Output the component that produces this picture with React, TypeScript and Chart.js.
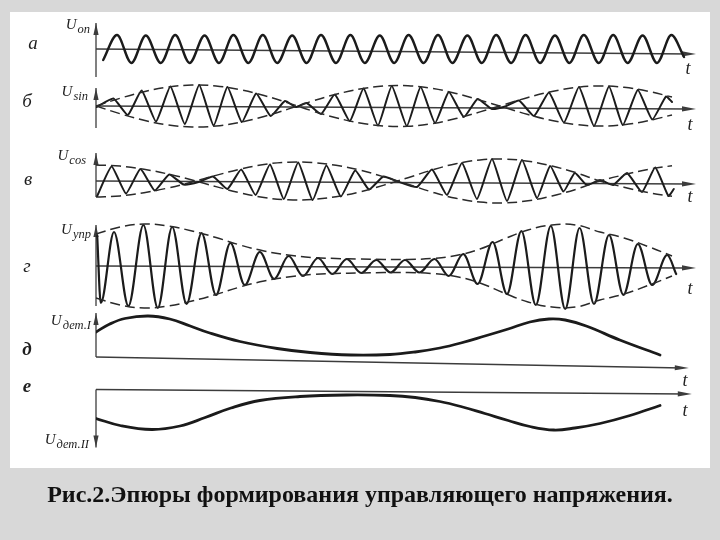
import React, { useEffect, useRef } from "react";
import { Chart, registerables } from "chart.js";

Chart.register(...registerables);

// ---- time axis (arbitrary units) ----
const T_MAX = 100;
const ENV_TIMES = [0, 4, 8, 12, 16, 20, 24, 28, 32, 36, 40, 44, 48, 52, 56, 60, 64, 68, 72, 76, 80, 84, 88, 92, 96];

// а) reference voltage U_оп (carrier extremes)
const onTimes = [1.2, 3.5, 5.9, 8.3, 10.8, 13.2, 15.6, 18.1, 20.5, 22.9, 25.4, 27.8, 30.2, 32.7, 35.1, 37.5, 40.0, 42.4, 44.8, 47.3, 49.7, 52.1, 54.6, 57.0, 59.4, 61.9, 64.3, 66.7, 69.2, 71.6, 74.0, 76.5, 78.9, 81.3, 83.8, 86.2, 88.6, 91.1, 93.5, 95.9, 98.0];
const onValues = [-11,
  14, -14, 13.5, -14, 14, -14, 13.5, -14, 14, -14,
  14, -14, 13.5, -14, 14, -14, 14, -14, 13.5, -14,
  14, -14, 14, -14, 13.5, -14, 14, -14, 14, -14,
  13.5, -14, 14, -14, 14, -14, 13.5, -14,
  14, -8];

// б) U_sin
const sinTimes = [0.1, 2.9, 5.3, 7.6, 10.0, 12.4, 14.8, 17.2, 19.6, 21.9, 24.3, 26.7, 29.1, 31.5, 33.3, 35.1, 37.5, 39.8, 42.3, 44.6, 47.0, 49.3, 51.8, 54.1, 56.5, 58.8, 61.3, 63.6, 66.0, 68.2, 70.5, 73.0, 75.5, 78.0, 80.5, 83.0, 85.5, 87.8, 90.3, 92.7, 95.0, 96.0];
const sinValues = [-1, 7.5, -9, 15.5, -15.5, 19.5, -18, 21, -19.5, 19, -16, 12.5, -10, 5, -1, 3, -8, 11.5, -15, 17.5, -19.5, 20, -20, 19, -17, 14, -11, 7, -3, -0.5, 5.5, -10, 13.5, -16.5, 19, -20, 19.5, -19, 16, -13.5, 9.5, 4];
const sinEnvelope = [0, 7.7, 14.3, 18.9, 21, 20.1, 16.3, 10.5, 3.1, -4.8, -11.7, -17, -20, -20.2, -17.6, -12.6, -5.9, 1.3, 8.5, 14.5, 18.5, 20, 18.7, 14.8, 8.9];

// в) U_cos
const cosTimes = [0.2, 2.6, 5.0, 7.4, 9.8, 12.2, 14.6, 17.1, 19.5, 21.9, 24.2, 26.6, 29.0, 31.3, 33.7, 36.1, 38.4, 40.8, 43.2, 45.5, 47.9, 50.3, 53.5, 56.0, 58.5, 61.0, 63.5, 66.0, 68.5, 71.0, 73.5, 75.7, 77.9, 79.8, 81.8, 84.0, 86.2, 88.5, 91.0, 93.2, 95.4, 96.3];
const cosValues = [-15, 14.5, -12.5, 12, -9.5, 6.5, -3.5, -1, 4.5, -8, 11.5, -14, 16.5, -18, 18.5, -19, 15.5, -15.5, 10.5, -8.5, 4.5, -0.5, -6, 11.5, -14, 18, -18, 22, -20, 21, -17, 15, -10.5, 8, -4, 1, -4, 8, -11, 13.5, -15, -8];
const cosEnvelope = [16, 14.9, 11.7, 7, 1, -5.6, -11.8, -16.5, -18.8, -18.5, -15.7, -10.9, -4.1, 3.3, 11, 17.3, 21.1, 21.9, 19.8, 15, 8.3, 0, -6.2, -11.6, -15.3];

// г) U_упр
const uprTimes = [0.2, 0.8, 3.0, 5.4, 7.9, 10.3, 12.7, 15.1, 17.6, 20.0, 22.4, 24.8, 27.3, 29.7, 32.1, 34.5, 37.0, 39.4, 41.8, 44.2, 46.7, 49.1, 51.5, 53.9, 56.4, 58.8, 61.2, 63.6, 66.1, 68.5, 70.9, 73.3, 75.8, 78.2, 80.6, 83.0, 85.5, 87.9, 90.3, 92.7, 95.2, 96.7];
const uprValues = [30, -37, 34, -40, 41, -42, 39, -38, 33, -29, 23, -19, 14, -13, 10, -10, 8, -8, 7, -7, 6, -6.5, 6, -6.5, 7, -10, 12, -18, 24, -28, 35, -39, 40, -43, 38, -38, 31, -29, 22, -19, 11, -8];
const uprEnvelope = [32, 39, 42, 40, 35, 28.5, 21, 15, 11, 8.5, 7.5, 7, 6.5, 6.5, 7.5, 10.5, 17, 27, 36, 41, 41, 34, 28, 19.5, 10];

// д) U_дет.I
const detITimes = [0, 2.3, 4.8, 8.7, 12.3, 15.7, 18.7, 24, 30.2, 35.7, 42.5, 49, 53.2, 57.3, 60.8, 64.8, 68.7, 72.3, 75.5, 78.2, 81.7, 87.3, 94];
const detIValues = [25, 33, 38.5, 41, 38, 31, 24.5, 15.5, 8.5, 4.5, 2, 2.5, 5, 9, 14, 21, 28, 35, 38, 37, 31, 17, 2];

// е) U_дет.II
const detIITimes = [0, 4, 9.3, 14, 18.2, 22.5, 27.3, 34, 41.7, 49, 53.2, 57.3, 60.8, 64.8, 68.7, 72.3, 76.3, 79.8, 84, 89, 94];
const detIIValues = [29, 36, 40, 36.5, 28, 18.5, 11, 7, 5.5, 6, 8, 12, 17, 24, 31, 37, 40.5, 38.5, 34, 26, 16];

// ---- layout / style ----
const AREA_TOP = 12;
const AREA_BOTTOM = 468;
const AREA_LEFT = 96;
const AREA_RIGHT = 696;
const INK = "#1b1b1b";
const AXIS_INK = "#3c3c3c";
const SERIF = '"Liberation Serif", "DejaVu Serif", serif';

type Panel = {
  axis: string; base: number; reverse?: boolean;
  letter: string; lx: number; ly: number; bold?: boolean;
  sub: string; ux: number; uy: number;
  tx: number; ty: number;
  hEnd: number; hSkew: number; vFrom: number; vTo: number;
};

const PANELS: Panel[] = [
  { axis: "yA", base: 49, letter: "а", lx: 33, ly: 49, sub: "оп", ux: 90, uy: 29, tx: 688, ty: 74, hEnd: 100, hSkew: -5, vFrom: -28, vTo: 26 },
  { axis: "yB", base: 106, letter: "б", lx: 27, ly: 107, sub: "sin", ux: 88, uy: 96, tx: 690, ty: 130, hEnd: 100, hSkew: -3, vFrom: -22, vTo: 18 },
  { axis: "yC", base: 181, letter: "в", lx: 28, ly: 185, sub: "cos", ux: 86, uy: 160, tx: 690, ty: 202, hEnd: 100, hSkew: -3, vFrom: -16, vTo: 28 },
  { axis: "yD", base: 266, letter: "г", lx: 27, ly: 272, sub: "упр", ux: 91, uy: 234, tx: 690, ty: 294, hEnd: 100, hSkew: -2, vFrom: -40, vTo: 41 },
  { axis: "yE", base: 357, letter: "д", lx: 27, ly: 355, bold: true, sub: "дет.I", ux: 91, uy: 325, tx: 685, ty: 386, hEnd: 98.8, hSkew: -11, vFrom: 0, vTo: 44 },
  { axis: "yF", base: 389.5, reverse: true, letter: "е", lx: 27, ly: 392, bold: true, sub: "дет.II", ux: 89, uy: 444, tx: 685, ty: 416, hEnd: 99.3, hSkew: 4.5, vFrom: 0, vTo: 58 },
];

function pts(times: number[], values: number[]) {
  return times.map((t, i) => ({ x: t, y: values[i] }));
}

function wave(axis: string, times: number[], values: number[], width: number, tension: number, mono = false) {
  return {
    data: pts(times, values),
    yAxisID: axis,
    borderColor: INK,
    borderWidth: width,
    pointRadius: 0,
    tension,
    cubicInterpolationMode: mono ? "monotone" : "default",
    fill: false,
    borderJoinStyle: "round",
    borderCapStyle: "round",
  };
}

function envelope(axis: string, values: number[], sign: number) {
  return {
    data: ENV_TIMES.map((t, i) => ({ x: t, y: sign * values[i] })),
    yAxisID: axis,
    borderColor: "#2a2a2a",
    borderWidth: 1.5,
    borderDash: [10, 5],
    pointRadius: 0,
    tension: 0.4,
    fill: false,
  };
}

function arrowHead(ctx: CanvasRenderingContext2D, x0: number, y0: number, x1: number, y1: number, len: number, half: number) {
  const dx = x1 - x0, dy = y1 - y0;
  const L = Math.hypot(dx, dy) || 1;
  const ux = dx / L, uy = dy / L;
  const bx = x1 - ux * len, by = y1 - uy * len;
  ctx.beginPath();
  ctx.moveTo(x1, y1);
  ctx.lineTo(bx - uy * half, by + ux * half);
  ctx.lineTo(bx + uy * half, by - ux * half);
  ctx.closePath();
  ctx.fill();
}

const decorPlugin = {
  id: "decor",
  beforeDatasetsDraw(chart: any) {
    const ctx: CanvasRenderingContext2D = chart.ctx;
    const xs = chart.scales.x;
    ctx.save();
    ctx.strokeStyle = AXIS_INK;
    ctx.fillStyle = AXIS_INK;
    ctx.lineWidth = 1.3;
    for (const p of PANELS) {
      const ys = chart.scales[p.axis];
      const x0 = xs.getPixelForValue(0);
      const y0 = ys.getPixelForValue(0);
      const x1 = xs.getPixelForValue(p.hEnd);
      const y1 = ys.getPixelForValue(p.hSkew);
      ctx.beginPath();
      ctx.moveTo(x0, y0);
      ctx.lineTo(x1 - 6, y1);
      ctx.stroke();
      arrowHead(ctx, x0, y0, x1, y1, 14, 2.6);
      const va = ys.getPixelForValue(p.vFrom);
      const vb = ys.getPixelForValue(p.vTo);
      ctx.beginPath();
      ctx.moveTo(x0, va);
      ctx.lineTo(x0, vb);
      ctx.stroke();
      arrowHead(ctx, x0, va, x0, vb, 12, 2.6);
    }
    ctx.restore();
  },
  afterDraw(chart: any) {
    const ctx: CanvasRenderingContext2D = chart.ctx;
    ctx.save();
    ctx.fillStyle = "#1e1e1e";
    ctx.textBaseline = "alphabetic";
    for (const p of PANELS) {
      ctx.textAlign = "center";
      ctx.font = `italic ${p.bold ? "bold " : ""}19px ${SERIF}`;
      ctx.fillText(p.letter, p.lx, p.ly);
      ctx.font = `italic 18px ${SERIF}`;
      ctx.fillText("t", p.tx, p.ty);
      ctx.textAlign = "left";
      ctx.font = `italic 15px ${SERIF}`;
      const wU = ctx.measureText("U").width;
      ctx.font = `italic 12.5px ${SERIF}`;
      const wS = ctx.measureText(p.sub).width;
      const sx = p.ux - wS - wU - 1;
      ctx.font = `italic 15px ${SERIF}`;
      ctx.fillText("U", sx, p.uy);
      ctx.font = `italic 12.5px ${SERIF}`;
      ctx.fillText(p.sub, sx + wU + 1, p.uy + 4);
    }
    ctx.restore();
  },
};

export default function App() {
  const ref = useRef<HTMLCanvasElement | null>(null);

  useEffect(() => {
    if (!ref.current) return;
    const scales: any = { x: { type: "linear", min: 0, max: T_MAX, display: false } };
    for (const p of PANELS) {
      const up = p.base - AREA_TOP;
      const down = AREA_BOTTOM - p.base;
      scales[p.axis] = p.reverse
        ? { type: "linear", display: false, reverse: true, min: -up, max: down }
        : { type: "linear", display: false, min: -down, max: up };
    }
    const datasets: any[] = [
      wave("yA", onTimes, onValues, 2.4, 0, true),
      envelope("yB", sinEnvelope, 1),
      envelope("yB", sinEnvelope, -1),
      wave("yB", sinTimes, sinValues, 2.0, 0.15),
      envelope("yC", cosEnvelope, 1),
      envelope("yC", cosEnvelope, -1),
      wave("yC", cosTimes, cosValues, 2.0, 0.15),
      envelope("yD", uprEnvelope, 1),
      envelope("yD", uprEnvelope, -1),
      wave("yD", uprTimes, uprValues, 2.2, 0, true),
      wave("yE", detITimes, detIValues, 2.8, 0.4),
      wave("yF", detIITimes, detIIValues, 2.8, 0.4),
    ];
    const chart = new Chart(ref.current, {
      type: "line",
      data: { datasets },
      options: {
        animation: false,
        responsive: false,
        maintainAspectRatio: false,
        devicePixelRatio: 1,
        parsing: true,
        layout: { padding: { left: AREA_LEFT, right: 720 - AREA_RIGHT, top: AREA_TOP, bottom: 540 - AREA_BOTTOM } },
        plugins: { legend: { display: false }, tooltip: { enabled: false }, title: { display: false } },
        scales,
      } as any,
      plugins: [decorPlugin as any],
    });
    return () => chart.destroy();
  }, []);

  return (
    <div style={{ position: "fixed", left: 0, top: 0, width: 720, height: 540, background: "#d8d8d8", overflow: "hidden" }}>
      <div style={{ position: "absolute", left: 10, top: 12, width: 700, height: 456, background: "#ffffff" }} />
      <canvas ref={ref} width={720} height={540} style={{ position: "absolute", left: 0, top: 0, width: 720, height: 540 }} />
      <div
        style={{
          position: "absolute",
          left: 0,
          top: 482,
          width: 720,
          textAlign: "center",
          fontFamily: SERIF,
          fontWeight: "bold",
          fontSize: 24,
          lineHeight: "24px",
          color: "#111",
          whiteSpace: "nowrap",
        }}
      >
        Рис.2.Эпюры формирования управляющего напряжения.
      </div>
    </div>
  );
}
